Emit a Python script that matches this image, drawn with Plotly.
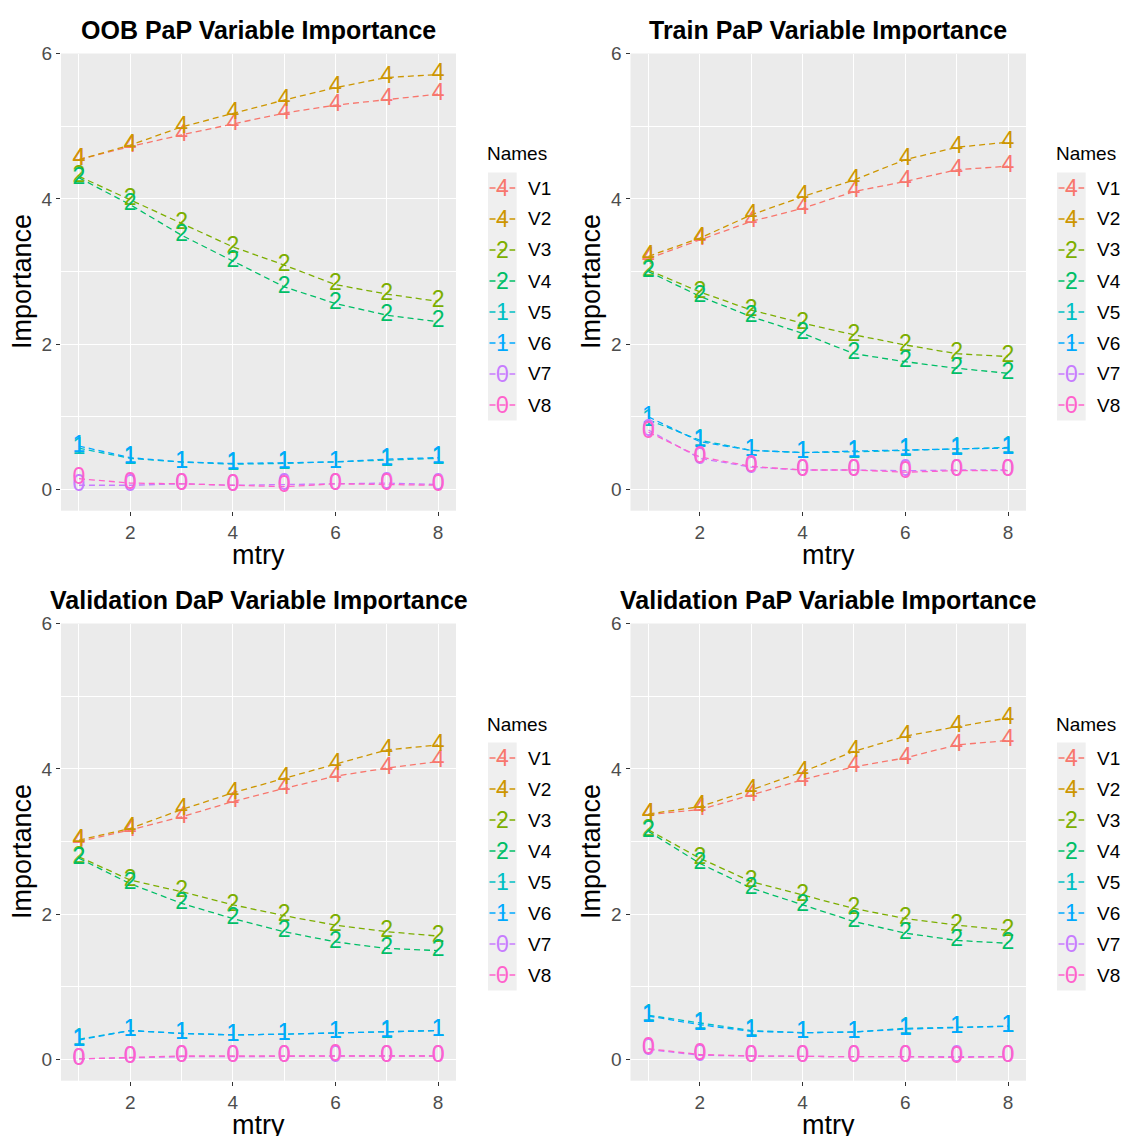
import plotly.graph_objects as go

# ---------------- data ----------------
mtry = [1, 2, 3, 4, 5, 6, 7, 8]
var_names = ["V1", "V2", "V3", "V4", "V5", "V6", "V7", "V8"]
var_symbols = ["4", "4", "2", "2", "1", "1", "0", "0"]
var_colors = ["#F8766D", "#CD9600", "#7CAE00", "#00BE67",
              "#00BFC4", "#00A9FF", "#C77CFF", "#FF61CC"]
panel_titles = ["OOB PaP Variable Importance", "Train PaP Variable Importance",
                "Validation DaP Variable Importance", "Validation PaP Variable Importance"]
y_ticks = [0, 2, 4, 6]
y_minor = [1, 3, 5]
x_ticks = [2, 4, 6, 8]
x_minor = [1, 3, 5, 7]

oob_values = [
    [4.54, 4.72, 4.88, 5.03, 5.18, 5.29, 5.37, 5.44],
    [4.54, 4.74, 4.99, 5.18, 5.36, 5.53, 5.67, 5.71],
    [4.31, 3.99, 3.67, 3.34, 3.09, 2.82, 2.69, 2.59],
    [4.29, 3.92, 3.50, 3.14, 2.79, 2.56, 2.40, 2.31],
    [0.57, 0.43, 0.38, 0.35, 0.36, 0.38, 0.41, 0.43],
    [0.60, 0.44, 0.38, 0.36, 0.37, 0.38, 0.42, 0.44],
    [0.06, 0.06, 0.08, 0.06, 0.07, 0.08, 0.09, 0.07],
    [0.15, 0.09, 0.08, 0.06, 0.04, 0.08, 0.07, 0.06],
]
train_values = [
    [3.18, 3.44, 3.69, 3.87, 4.10, 4.24, 4.40, 4.45],
    [3.21, 3.46, 3.78, 4.03, 4.26, 4.54, 4.71, 4.78],
    [3.02, 2.72, 2.47, 2.29, 2.13, 1.99, 1.87, 1.83],
    [3.00, 2.66, 2.38, 2.15, 1.87, 1.76, 1.67, 1.60],
    [0.96, 0.68, 0.54, 0.51, 0.52, 0.54, 0.57, 0.58],
    [1.00, 0.66, 0.54, 0.51, 0.53, 0.55, 0.56, 0.57],
    [0.82, 0.43, 0.31, 0.27, 0.27, 0.26, 0.27, 0.27],
    [0.79, 0.45, 0.32, 0.27, 0.27, 0.24, 0.26, 0.26],
]
val_dap_values = [
    [3.00, 3.16, 3.34, 3.55, 3.73, 3.90, 4.01, 4.10],
    [3.02, 3.18, 3.44, 3.67, 3.87, 4.07, 4.26, 4.33],
    [2.79, 2.47, 2.31, 2.13, 1.98, 1.85, 1.76, 1.70],
    [2.77, 2.42, 2.15, 1.94, 1.76, 1.62, 1.53, 1.50],
    [0.28, 0.40, 0.36, 0.34, 0.35, 0.37, 0.38, 0.40],
    [0.27, 0.40, 0.36, 0.34, 0.35, 0.37, 0.39, 0.40],
    [0.01, 0.03, 0.04, 0.04, 0.05, 0.05, 0.05, 0.05],
    [0.01, 0.03, 0.05, 0.05, 0.05, 0.06, 0.05, 0.05],
]
val_pap_values = [
    [3.37, 3.44, 3.64, 3.85, 4.03, 4.15, 4.33, 4.39],
    [3.38, 3.48, 3.71, 3.96, 4.24, 4.45, 4.58, 4.70],
    [3.16, 2.77, 2.45, 2.26, 2.08, 1.94, 1.85, 1.78],
    [3.14, 2.70, 2.36, 2.13, 1.90, 1.74, 1.64, 1.60],
    [0.61, 0.50, 0.40, 0.37, 0.38, 0.43, 0.45, 0.46],
    [0.60, 0.48, 0.39, 0.37, 0.38, 0.42, 0.44, 0.46],
    [0.14, 0.06, 0.05, 0.04, 0.04, 0.04, 0.04, 0.04],
    [0.15, 0.07, 0.05, 0.04, 0.04, 0.04, 0.03, 0.04],
]
panels = [oob_values, train_values, val_dap_values, val_pap_values]

# ---------------- layout geometry (pixels) ----------------
W, H = 1121, 1136
FONT = "Liberation Sans, Arial, Helvetica, sans-serif"
MARK_SIZE = 23
col_left = [61, 630.5]
col_right = [456, 1026]
row_top = [53.5, 623.5]
row_bot = [510.7, 1080.7]
row_shift = [0, 570]
col_shift = [0, 569]


def fx(p):
    return p / W


def fy(p):
    return 1 - p / H


fig = go.Figure()
annotations = []
shapes = []

for i, values in enumerate(panels):
    r, c = divmod(i, 2)
    n = i + 1
    xa = "x" if n == 1 else f"x{n}"
    ya = "y" if n == 1 else f"y{n}"
    for k in range(8):
        fig.add_trace(go.Scatter(
            x=mtry, y=values[k], mode="lines", xaxis=xa, yaxis=ya,
            line=dict(color=var_colors[k], width=1.3, dash="6px,4px"),
            showlegend=False, hoverinfo="skip"))
    for k in range(8):
        fig.add_trace(go.Scatter(
            x=mtry, y=values[k], mode="text", xaxis=xa, yaxis=ya,
            text=[var_symbols[k]] * len(mtry), textposition="middle center",
            textfont=dict(family=FONT, size=MARK_SIZE, color=var_colors[k]),
            showlegend=False, name=var_names[k]))

    axis_common = dict(showgrid=True, gridcolor="white", gridwidth=1.1,
                       zeroline=False, showline=False, ticks="outside", ticklen=4,
                       tickwidth=1, tickcolor="#333333", automargin=False,
                       tickfont=dict(family=FONT, size=19, color="#4D4D4D"))
    fig.update_layout(**{
        ("xaxis" if n == 1 else f"xaxis{n}"): dict(
            domain=[fx(col_left[c]), fx(col_right[c])], anchor=ya,
            range=[0.65, 8.35], tickmode="array", tickvals=x_ticks,
            minor=dict(tickmode="array", tickvals=x_minor, showgrid=True,
                       gridcolor="white", gridwidth=0.55, ticks=""),
            **axis_common),
        ("yaxis" if n == 1 else f"yaxis{n}"): dict(
            domain=[fy(row_bot[r]), fy(row_top[r])], anchor=xa,
            range=[-0.29, 6.0], tickmode="array", tickvals=y_ticks,
            minor=dict(tickmode="array", tickvals=y_minor, showgrid=True,
                       gridcolor="white", gridwidth=0.55, ticks=""),
            **axis_common),
    })

    cx = (col_left[c] + col_right[c]) / 2
    cy = (row_top[r] + row_bot[r]) / 2
    annotations.append(dict(x=fx(cx), y=fy(30 + row_shift[r]), xref="paper", yref="paper",
                            text=f"<b>{panel_titles[i]}</b>", showarrow=False,
                            xanchor="center", yanchor="middle",
                            font=dict(family=FONT, size=25, color="black")))
    annotations.append(dict(x=fx(cx), y=fy(555 + row_shift[r]), xref="paper",
                            yref="paper", text="mtry", showarrow=False,
                            xanchor="center", yanchor="middle",
                            font=dict(family=FONT, size=27, color="black")))
    annotations.append(dict(x=fx(22 + col_shift[c]), y=fy(cy), xref="paper", yref="paper",
                            text="Importance", showarrow=False, textangle=-90,
                            xanchor="center", yanchor="middle",
                            font=dict(family=FONT, size=27, color="black")))

    lx0 = 488 + col_shift[c]
    lx1 = 516.7 + col_shift[c]
    ly0 = 172.5 + row_shift[r]
    step = 31
    annotations.append(dict(x=fx(485 + col_shift[c]), y=fy(154 + row_shift[r]),
                            xref="paper", yref="paper", text="Names", showarrow=False,
                            xanchor="left", yanchor="middle",
                            font=dict(family=FONT, size=19, color="black")))
    shapes.append(dict(type="rect", xref="paper", yref="paper",
                       x0=fx(lx0), x1=fx(lx1), y0=fy(ly0), y1=fy(ly0 + 8 * step),
                       fillcolor="#EFEFEF", line=dict(width=0), layer="below"))
    for k in range(8):
        yc = ly0 + step * (k + 0.5)
        shapes.append(dict(type="line", xref="paper", yref="paper",
                           x0=fx(lx0 + 1.5), x1=fx(lx1 - 1.5), y0=fy(yc), y1=fy(yc),
                           line=dict(color=var_colors[k], width=1.3, dash="6px,4px")))
        annotations.append(dict(x=fx((lx0 + lx1) / 2), y=fy(yc), xref="paper", yref="paper",
                                text=var_symbols[k], showarrow=False,
                                xanchor="center", yanchor="middle",
                                font=dict(family=FONT, size=MARK_SIZE, color=var_colors[k])))
        annotations.append(dict(x=fx(526 + col_shift[c]), y=fy(yc), xref="paper",
                                yref="paper", text=var_names[k], showarrow=False,
                                xanchor="left", yanchor="middle",
                                font=dict(family=FONT, size=19, color="black")))

fig.update_layout(
    width=W, height=H, autosize=False,
    margin=dict(l=0, r=0, t=0, b=0, pad=0, autoexpand=False),
    paper_bgcolor="white", plot_bgcolor="#EBEBEB",
    showlegend=False, annotations=annotations, shapes=shapes,
    font=dict(family=FONT),
)

fig.write_html("out.html", config={"responsive": False})
